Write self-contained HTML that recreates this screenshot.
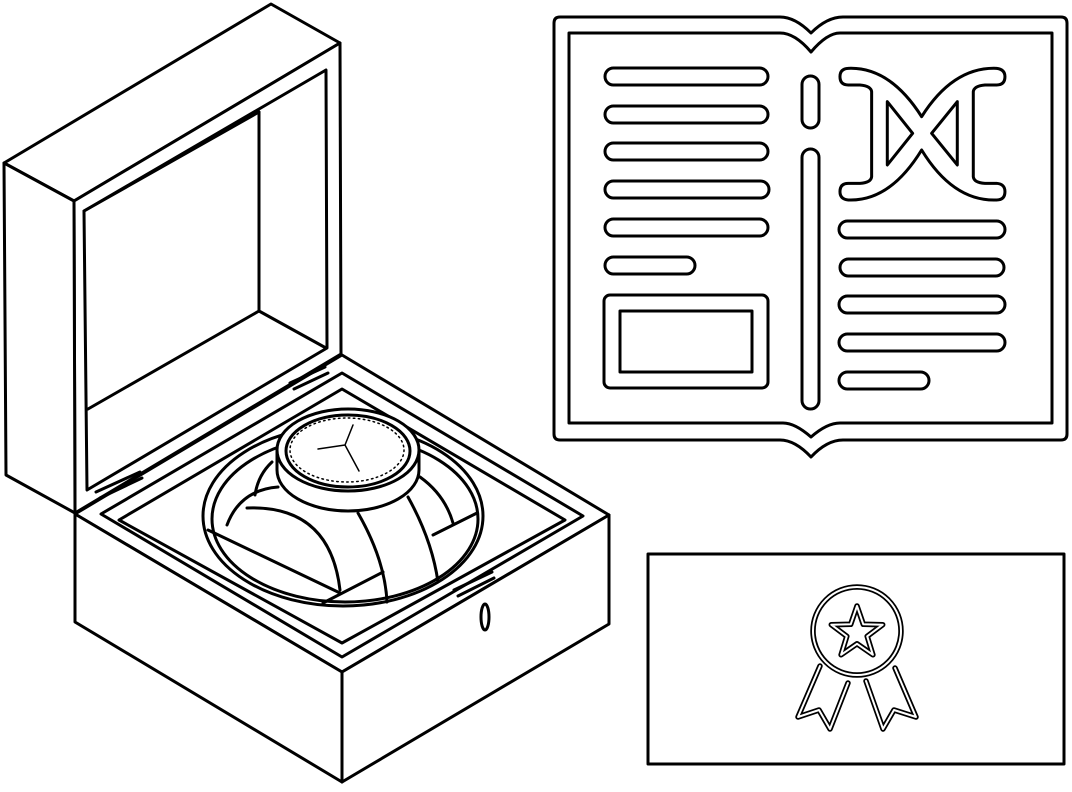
<!DOCTYPE html>
<html><head><meta charset="utf-8"><style>html,body{margin:0;padding:0;background:#fff}svg{display:block}</style></head>
<body>
<svg width="1072" height="792" viewBox="0 0 1072 792" xmlns="http://www.w3.org/2000/svg" fill="none" stroke="#000" stroke-linejoin="round" stroke-linecap="round">
<!-- LID -->
<g stroke-width="3">
<polygon points="4,163 271,4 340,43 74,201" fill="#fff"/>
<polygon points="74,201 340,43 341,354 75,513" fill="#fff"/>
<polygon points="4,163 74,201 75,513 6,475" fill="#fff"/>
<polygon points="84,211 326,70 327,348 87,490"/>
<line x1="84" y1="211" x2="259" y2="112"/>
<line x1="259" y1="112" x2="259" y2="311"/>
<line x1="88" y1="409" x2="259" y2="311"/>
<line x1="259" y1="311" x2="326" y2="348"/>
</g>
<!-- BASE -->
<g stroke-width="3">
<polygon points="342,355 609,515 342,672 75,514" fill="#fff"/>
<polygon points="75,514 342,672 342,782 75,622" fill="#fff"/>
<polygon points="342,672 609,515 609,624 342,782" fill="#fff"/>
<polygon points="342,373 583,516 342,657 101,514"/>
<polygon points="342,389 565,520 342,643 119,520"/>
<ellipse cx="485" cy="617" rx="4" ry="13"/>
<path d="M96,492 L140,472 M100,498 L142,478"/>
<path d="M290,383 L325,367 M294,389 L328,373"/>
<path d="M454,590 L492,572 M458,596 L494,578"/>
</g>
<!-- CUSHION -->
<g stroke-width="3">
<ellipse cx="343" cy="516" rx="140" ry="90" fill="#fff"/>
<ellipse cx="345" cy="519" rx="133" ry="83"/>
<path d="M247,508 Q330,505 340,590"/>
<path d="M208,530 L340,593"/>
<path d="M323,603 L383,572"/>
<path d="M358,513 Q385,560 387,602"/>
<path d="M408,497 Q432,540 438,582"/>
<path d="M420,477 Q445,495 453,523"/>
<path d="M433,535 L477,513"/>
<path d="M227,525 Q240,490 278,487"/>
<path d="M255,495 Q258,475 272,462"/>
</g>
<!-- WATCH -->
<g stroke-width="3">
<path d="M277,450 L277,470 A71,41 0 0 0 419,470 L419,450" fill="#fff"/>
<ellipse cx="348" cy="450" rx="71" ry="41" fill="#fff"/>
<ellipse cx="348" cy="451" rx="62" ry="36"/>
<ellipse cx="347" cy="450" rx="57" ry="32" stroke-width="1.5" stroke-dasharray="1.5 3.5"/>
<path d="M345,445 L318,449 M345,445 L353,425 M345,445 L359,471" stroke-width="1.5"/>
</g>
<!-- BOOK -->
<g stroke-width="3">
<path d="M560,17 L780,17 Q795,17 811,33 Q827,17 843,17 L1061,17 Q1067,17 1067,23 L1067,434 Q1067,440 1061,440 L843,440 Q827,440 811,457 Q795,440 780,440 L560,440 Q554,440 554,434 L554,23 Q554,17 560,17 Z"/>
<path d="M569,33 L780,33 Q795,33 811,52 Q827,33 840,33 L1052,33 L1052,423 L840,423 Q827,423 811,437 Q795,423 783,423 L569,423 Z"/>
<g>
<rect x="605" y="68" width="163" height="17" rx="8.5"/>
<rect x="605" y="106" width="163" height="17" rx="8.5"/>
<rect x="605" y="143" width="163" height="17" rx="8.5"/>
<rect x="605" y="181" width="164" height="17" rx="8.5"/>
<rect x="605" y="219" width="163" height="17" rx="8.5"/>
<rect x="605" y="257" width="90" height="17" rx="8.5"/>
<rect x="604" y="295" width="164" height="93" rx="6"/>
<rect x="620" y="311" width="132" height="61"/>
<rect x="802" y="76" width="17" height="52" rx="8.5"/>
<rect x="802" y="149" width="17" height="260" rx="8.5"/>
<rect x="839" y="221" width="166" height="17" rx="8.5"/>
<rect x="840" y="259" width="164" height="17" rx="8.5"/>
<rect x="839" y="296" width="166" height="17" rx="8.5"/>
<rect x="839" y="334" width="166" height="17" rx="8.5"/>
<rect x="839" y="372" width="90" height="17" rx="8.5"/>
</g>
<g transform="translate(550,10) scale(0.3333)" stroke-width="9">
<path d="M895,175 Q1020,170 1115,320 Q1210,170 1340,175 Q1365,178 1365,200 Q1365,225 1340,225 L1305,225 Q1272,228 1270,245 L1270,500 Q1272,518 1305,520 L1340,520 Q1365,522 1365,545 Q1365,570 1340,570 Q1210,575 1115,420 Q1020,575 895,570 Q870,568 870,545 Q870,520 895,520 L930,520 Q963,518 965,500 L965,245 Q963,228 930,225 L895,225 Q870,225 870,200 Q870,176 895,175 Z"/>
<path d="M1012,275 L1088,370 L1012,465 Z"/>
<path d="M1222,275 L1145,370 L1222,465 Z"/>
</g>
</g>
<!-- CERTIFICATE -->
<rect x="648" y="554" width="416" height="210" stroke-width="3"/>
<g id="medal">
<circle cx="857" cy="631" r="44"/>
<polygon points="857,606 863.3,624.3 882.7,624.7 867.2,636.3 872.9,654.8 857,643.8 841.1,654.8 846.8,636.3 831.3,624.7 850.7,624.3"/>
<polyline points="820,666 798,717 819,710 830,729 848,683"/>
<polyline points="866,681 883,729 894,710 916,717 895,668"/>
</g>
<g stroke-width="5.5" stroke="#000">
<circle cx="857" cy="631" r="44"/>
<polygon points="857,606 863.3,624.3 882.7,624.7 867.2,636.3 872.9,654.8 857,643.8 841.1,654.8 846.8,636.3 831.3,624.7 850.7,624.3"/>
<polyline points="820,666 798,717 819,710 830,729 848,683"/>
<polyline points="866,681 883,729 894,710 916,717 895,668"/>
</g>
<g stroke-width="2" stroke="#fff">
<circle cx="857" cy="631" r="44"/>
<polygon points="857,606 863.3,624.3 882.7,624.7 867.2,636.3 872.9,654.8 857,643.8 841.1,654.8 846.8,636.3 831.3,624.7 850.7,624.3"/>
<polyline points="820,666 798,717 819,710 830,729 848,683"/>
<polyline points="866,681 883,729 894,710 916,717 895,668"/>
</g>
</svg>
</body></html>
